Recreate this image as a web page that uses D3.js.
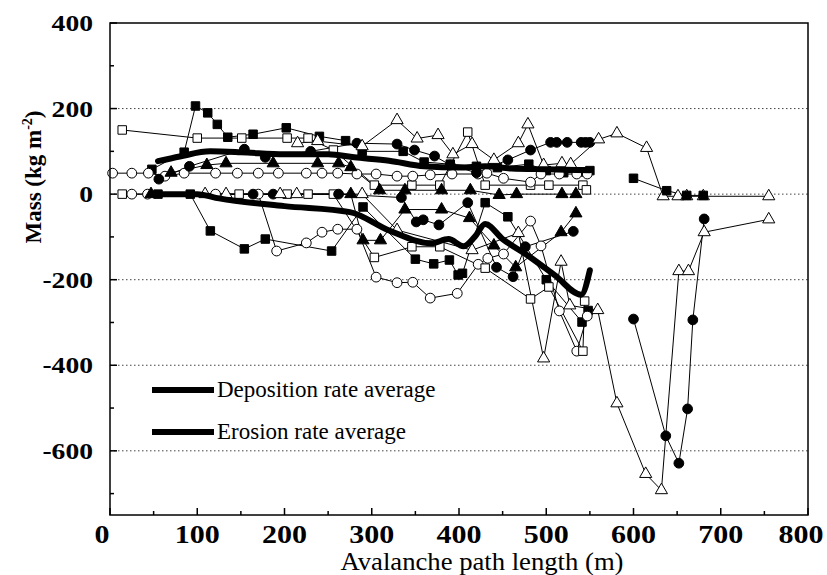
<!DOCTYPE html>
<html><head><meta charset="utf-8">
<script src="https://cdn.jsdelivr.net/npm/d3@7"></script>
<style>body{margin:0;background:#fff}svg{display:block}</style>
</head><body><svg id="c" width="827" height="575"></svg>
<script>
// ---- data (x: path length m, y: mass kg m-2) ----
const xTicks = [0,100,200,300,400,500,600,700,800];
const yTicks = [400,200,0,-200,-400,-600];
const legendLabels = ["Deposition rate average","Erosion rate average"];

const depAvg = [[55,77],[80,88],[115,100],[150,98],[200,93],[250,93],[280,86],[320,78],[360,65],[400,62],[430,65],[460,60],[500,58],[550,56]];
const eroAvg = [[55,0],[100,0],[125,-10],[200,-28],[275,-42],[320,-85],[368,-115],[388,-105],[405,-122],[418,-100],[430,-70],[450,-105],[480,-145],[510,-190],[540,-235],[550,-178]];

const dSqFilled = [[48,58],[85,98],[98,206],[112,190],[123,163],[135,133],[164,140],[202,155],[240,135],[270,125],[289,100],[336,100],[360,75],[390,70],[420,65],[444,62],[480,70],[500,55],[520,50],[540,52],[550,55]];
const dSqOpen = [[14,150],[100,131],[151,131],[203,131],[227,131],[256,103],[303,21],[346,21],[378,21],[410,145],[430,21],[482,21],[503,21],[542,21],[546,10]];
const dCircOpen = [[3,49],[25,49],[44,49],[63,42],[85,49],[121,49],[146,49],[170,49],[193,49],[225,49],[243,49],[261,49],[283,47],[305,47],[329,42],[347,42],[367,45],[392,47],[422,47],[432,49],[451,37],[482,28],[494,47],[515,47],[535,47],[547,47]];
const dCircFilled = [[56,35],[91,65],[154,105],[178,86],[230,100],[283,119],[329,117],[349,103],[372,89],[390,68],[420,50],[456,80],[482,103],[505,121],[512,121],[524,121],[540,121],[545,121],[550,121]];
const dTriOpen = [[215,119],[238,124],[289,112],[329,173],[352,130],[376,138],[393,93],[415,117],[440,80],[468,119],[479,163],[497,68],[518,72],[528,70],[560,128],[581,142],[615,108],[634,-5],[651,-5],[661,-5],[680,-5],[755,-5]];
const dTriFilled = [[70,50],[111,68],[133,72],[187,72],[238,72],[262,72],[276,63],[309,9],[338,9],[380,9],[413,9],[446,-2],[466,0],[518,0],[534,0]];
const dSqFilledEnd = [[600,37],[638,8],[661,-3],[680,-3]];

const eSqFilled = [[55,0],[92,0],[115,-86],[154,-128],[178,-105],[254,-133],[290,-30],[350,-152],[371,-163],[389,-154],[399,-189],[404,-185],[430,-20],[456,-53],[500,-200],[541,-299],[548,-272]];
const eCircOpen = [[25,0],[43,0],[121,0],[170,0],[191,-133],[225,-114],[243,-89],[261,-82],[283,-82],[305,-194],[329,-207],[347,-206],[367,-243],[398,-232],[422,-164],[433,-150],[451,-140],[482,-63],[494,-121],[515,-273],[535,-367],[547,-285]];
const eSqOpen = [[14,0],[148,0],[203,0],[227,0],[256,0],[303,-148],[346,-123],[378,-123],[430,-173],[482,-245],[503,-217],[542,-367],[544,-250]];
const eCircFilled = [[164,0],[187,0],[262,0],[334,-8],[351,-65],[359,-60],[377,-72],[410,-20],[443,-171],[462,-193],[476,-123],[531,-87]];
const eCircFilled2 = [[600,-292],[637,-565],[652,-629],[662,-502],[668,-294],[681,-58]];
const eTriOpen = [[109,0],[133,0],[195,0],[214,0],[289,0],[329,-84],[415,-131],[468,-91],[497,-384],[517,-158],[527,-260],[559,-271],[581,-489],[614,-654],[632,-692],[652,-180],[663,-180],[681,-89],[755,-59]];
const eTriFilled = [[47,0],[276,0],[290,-108],[310,-108],[338,-36],[380,-36],[412,-56],[440,-120],[465,-171],[517,-89],[534,-45]];

const series = [
  {d:dSqFilled,m:"square",f:true},{d:dSqOpen,m:"square",f:false},
  {d:dCircOpen,m:"circle",f:false},{d:dCircFilled,m:"circle",f:true},
  {d:dTriOpen,m:"triangle",f:false},{d:dTriFilled,m:"triangle",f:true},
  {d:dSqFilledEnd,m:"square",f:true},
  {d:eSqFilled,m:"square",f:true},{d:eCircOpen,m:"circle",f:false},
  {d:eSqOpen,m:"square",f:false},{d:eCircFilled,m:"circle",f:true},
  {d:eCircFilled2,m:"circle",f:true},{d:eTriOpen,m:"triangle",f:false},
  {d:eTriFilled,m:"triangle",f:true}
];

// ---- layout ----
const svg = d3.select("#c");
const X0=110, X1=808, Y0=23, Y1=515;
const x = d3.scaleLinear().domain([0,800]).range([X0,X1]);
const y = d3.scaleLinear().domain([-750,400]).range([Y1,Y0]);
const FONT = "Liberation Serif, Times New Roman, serif";

// grid
svg.append("g").selectAll("line").data(yTicks.filter(v=>v<=200)).join("line")
  .attr("x1",X0).attr("x2",X1).attr("y1",d=>y(d)).attr("y2",d=>y(d))
  .attr("stroke","#444").attr("stroke-width",1).attr("stroke-dasharray","1.5,2.5");

// series lines
const line = d3.line().x(d=>x(d[0])).y(d=>y(d[1]));
const gS = svg.append("g");
series.forEach(s=>{
  gS.append("path").attr("d",line(s.d)).attr("fill","none").attr("stroke","#000").attr("stroke-width",1);
});
// markers
const symSq = d3.symbol().type(d3.symbolSquare).size(72);
const symCi = d3.symbol().type(d3.symbolCircle).size(75);
const symTr = d3.symbol().type(d3.symbolTriangle).size(64);
series.forEach(s=>{
  const sym = s.m==="square"?symSq:(s.m==="circle"?symCi:symTr);
  gS.append("g").selectAll("path").data(s.d).join("path")
    .attr("transform",d=>`translate(${x(d[0])},${y(d[1])})`)
    .attr("d",sym()).attr("fill",s.f?"#000":"#fff").attr("stroke","#000").attr("stroke-width",1);
});

// thick averages
const smooth = d3.line().x(d=>x(d[0])).y(d=>y(d[1])).curve(d3.curveMonotoneX);
[depAvg,eroAvg].forEach(a=>{
  svg.append("path").attr("d",smooth(a)).attr("fill","none").attr("stroke","#000")
    .attr("stroke-width",6).attr("stroke-linejoin","round").attr("stroke-linecap","round");
});

// frame
svg.append("rect").attr("x",X0).attr("y",Y0).attr("width",X1-X0).attr("height",Y1-Y0)
  .attr("fill","none").attr("stroke","#000").attr("stroke-width",1.5);

// ticks inward
const gT = svg.append("g").attr("stroke","#000").attr("stroke-width",1.5);
d3.range(0,801,50).forEach(v=>{
  const L = v%100===0?7:4;
  gT.append("line").attr("x1",x(v)).attr("x2",x(v)).attr("y1",Y1).attr("y2",Y1-L);
});
d3.range(-700,401,100).forEach(v=>{
  const L = v%200===0?7:4;
  gT.append("line").attr("x1",X0).attr("x2",X0+L).attr("y1",y(v)).attr("y2",y(v));
});

// tick labels
const xLabPos = v => v===0 ? x(v)-8 : (v===800 ? x(v)-7 : x(v));
svg.append("g").selectAll("text").data(xTicks).join("text")
  .attr("transform",d=>`translate(${xLabPos(d)},543) scale(1.2,1)`)
  .attr("text-anchor","middle").attr("font-family",FONT).attr("font-size",25).attr("font-weight","bold")
  .text(d=>d);
svg.append("g").selectAll("text").data(yTicks).join("text")
  .attr("transform",d=>`translate(93,${y(d)+8}) scale(1.2,1)`)
  .attr("text-anchor","end").attr("font-family",FONT).attr("font-size",23).attr("font-weight","bold")
  .text(d=>d);

// axis titles
svg.append("text").attr("x",482).attr("y",570).attr("text-anchor","middle")
  .attr("font-family",FONT).attr("font-size",25)
  .attr("textLength",283).attr("lengthAdjust","spacingAndGlyphs")
  .text("Avalanche path length (m)");
const yt = svg.append("text").attr("transform","translate(41,177) rotate(-90)").attr("text-anchor","middle")
  .attr("font-family",FONT).attr("font-size",23).attr("font-weight","bold");
yt.append("tspan").text("Mass (kg m");
yt.append("tspan").attr("dy",-9).attr("font-size",14).text("-2");
yt.append("tspan").attr("dy",9).text(")");

// legend
const legY = [390,432];
legendLabels.forEach((t,i)=>{
  svg.append("line").attr("x1",152).attr("x2",214).attr("y1",legY[i]).attr("y2",legY[i])
    .attr("stroke","#000").attr("stroke-width",6);
  svg.append("text").attr("x",217).attr("y",legY[i]+7).attr("font-family",FONT).attr("font-size",23)
    .text(t);
});
</script></body></html>
